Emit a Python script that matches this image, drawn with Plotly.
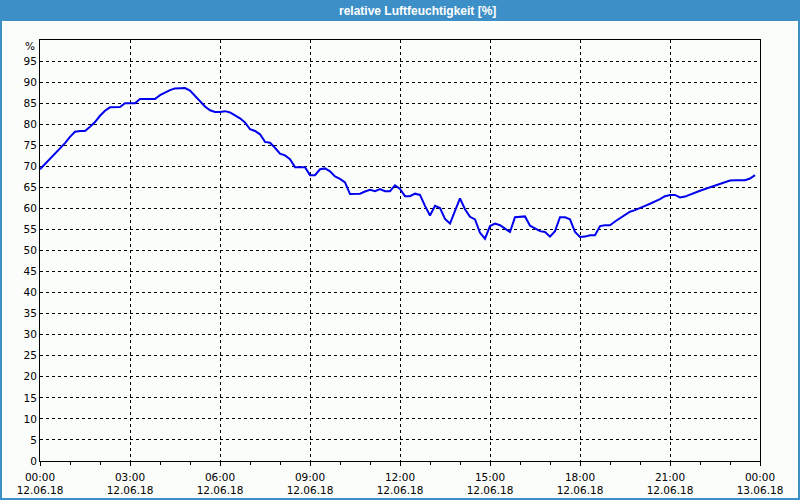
import pandas as pd
import plotly.graph_objects as go

# relative humidity, 10-minute readings from 12.06.18 00:00
start_time = "2018-06-12 00:00"
humidity = [
    69.3, 70.5, 71.7, 72.9, 74.1, 75.5, 77.0, 78.2, 78.4, 78.4, 79.4, 80.5,
    82.0, 83.2, 84.0, 84.1, 84.1, 85.0, 85.0, 85.0, 86.0, 86.0, 86.0, 86.0,
    86.9, 87.5, 88.1, 88.5, 88.6, 88.6, 88.0, 86.8, 85.5, 84.2, 83.3, 82.9,
    82.9, 83.1, 82.8, 82.2, 81.4, 80.4, 78.8, 78.4, 77.6, 75.8, 75.6, 74.4,
    73.0, 72.6, 71.7, 69.8, 69.8, 69.8, 67.9, 67.9, 69.3, 69.5, 68.8, 67.6,
    67.0, 66.2, 63.4, 63.4, 63.5, 64.0, 64.4, 64.1, 64.6, 64.1, 64.1, 65.5,
    64.6, 62.9, 62.9, 63.5, 63.2, 60.6, 58.3, 60.6, 60.1, 57.5, 56.4, 59.4,
    62.4, 59.8, 58.0, 57.4, 54.2, 52.8, 55.8, 56.4, 56.0, 55.2, 54.4, 57.9,
    58.0, 58.1, 55.9, 55.2, 54.6, 54.4, 53.3, 54.6, 57.9, 57.9, 57.4, 54.4,
    53.2, 53.3, 53.6, 53.6, 55.8, 56.0, 56.0, 56.9, 57.7, 58.5, 59.2, 59.6,
    60.2, 60.6, 61.1, 61.6, 62.2, 62.9, 63.2, 63.2, 62.6, 62.8, 63.3, 63.8,
    64.2, 64.6, 65.0, 65.4, 65.9, 66.3, 66.6, 66.7, 66.7, 66.7, 67.1, 67.9,
]
times = pd.date_range(start_time, periods=len(humidity), freq="10min")

x_tickvals = ["2018-06-12 00:00", "2018-06-12 03:00", "2018-06-12 06:00",
              "2018-06-12 09:00", "2018-06-12 12:00", "2018-06-12 15:00",
              "2018-06-12 18:00", "2018-06-12 21:00", "2018-06-13 00:00"]
x_ticktext = ["00:00<br>12.06.18", "03:00<br>12.06.18", "06:00<br>12.06.18",
              "09:00<br>12.06.18", "12:00<br>12.06.18", "15:00<br>12.06.18",
              "18:00<br>12.06.18", "21:00<br>12.06.18", "00:00<br>13.06.18"]
y_tickvals = list(range(0, 101, 5))
y_ticktext = [str(v) for v in range(0, 100, 5)] + [""]
y_unit = "%"
title_text = "relative Luftfeuchtigkeit [%]"

W, H = 800, 500
L, R, T, B = 40, 40, 40, 39
pw, ph = W - L - R, H - T - B


def px(xp):
    return (xp - L) / pw


def py(yp):
    return (H - B - yp) / ph


fig = go.Figure()
fig.add_trace(go.Scatter(x=times, y=humidity, mode="lines",
                         line=dict(color="#0000ee", width=2), showlegend=False))

font = dict(family="DejaVu Sans", size=10.5, color="#000000")
fig.update_layout(
    width=W, height=H,
    margin=dict(l=L, r=R, t=T, b=B, autoexpand=False),
    paper_bgcolor="#fbfdfb", plot_bgcolor="#fbfdfb",
    font=font,
    xaxis=dict(
        type="date",
        range=[x_tickvals[0], x_tickvals[-1]],
        tickmode="array", tickvals=x_tickvals, ticktext=x_ticktext,
        showgrid=True, gridcolor="#000000", gridwidth=1, griddash="3px,3px",
        showline=True, linecolor="#000000", linewidth=1, mirror=True,
        ticks="outside", ticklen=4, tickcolor="#000000",
        ticklabelstandoff=2,
        minor=dict(dtick=3600000, ticks="outside", ticklen=3,
                   tickcolor="#000000", showgrid=False),
        zeroline=False, tickfont=font, automargin=False,
    ),
    yaxis=dict(
        range=[0, 100],
        tickmode="array", tickvals=y_tickvals, ticktext=y_ticktext,
        showgrid=True, gridcolor="#000000", gridwidth=1, griddash="3px,3px",
        showline=True, linecolor="#000000", linewidth=1, mirror=True,
        ticks="", zeroline=False, tickfont=font, automargin=False,
    ),
    shapes=[
        dict(type="rect", xref="paper", yref="paper",
             x0=px(0), x1=px(W), y0=py(21), y1=py(0),
             fillcolor="#3d8fc7", line=dict(width=0), layer="above"),
        dict(type="rect", xref="paper", yref="paper",
             x0=px(1), x1=px(W - 1), y0=py(H - 1), y1=py(1),
             fillcolor="rgba(0,0,0,0)", line=dict(color="#3d8fc7", width=2),
             layer="above"),
    ],
    annotations=[
        dict(text=title_text, xref="paper", yref="paper",
             x=px(417), y=py(10.5), xanchor="center", yanchor="middle",
             showarrow=False,
             font=dict(family="Liberation Sans", size=12, color="#ffffff",
                       weight="bold")),
        dict(text=y_unit, xref="paper", yref="paper",
             x=px(37), y=py(46), xanchor="right", yanchor="middle",
             showarrow=False, font=font),
    ],
)

fig.write_html("out.html")
